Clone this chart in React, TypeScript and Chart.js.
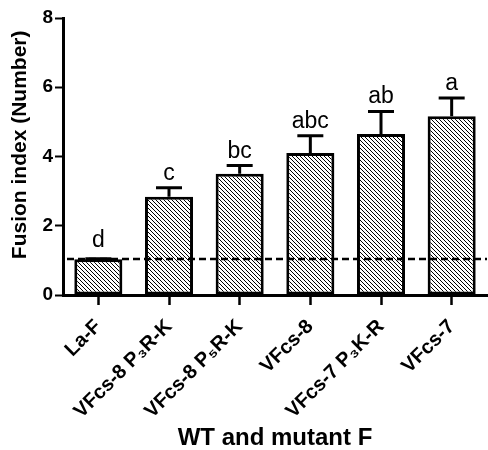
import React, { useEffect, useRef } from "react";
import { Chart, registerables } from "chart.js";

Chart.register(...registerables);

const categories = ["La-F", "VFcs-8 P₃R-K", "VFcs-8 P₅R-K", "VFcs-8", "VFcs-7 P₃K-R", "VFcs-7"];
const means = [1.03, 2.84, 3.5, 4.1, 4.65, 5.16];
const errors = [0.02, 0.26, 0.24, 0.5, 0.65, 0.53];
const letters = ["d", "c", "bc", "abc", "ab", "a"];
const referenceLine = 1.04;
const yMin = 0;
const yMax = 8;
const yStep = 2;

const FONT = "Arial, 'Liberation Sans', sans-serif";

function makeHatch(): CanvasPattern | string {
  const c = document.createElement("canvas");
  c.width = 4;
  c.height = 4;
  const g = c.getContext("2d");
  if (!g) return "#fff";
  g.fillStyle = "#fff";
  g.fillRect(0, 0, 4, 4);
  g.strokeStyle = "#000";
  g.lineWidth = 1;
  g.beginPath();
  g.moveTo(-1, -1);
  g.lineTo(5, 5);
  g.moveTo(-1, 3);
  g.lineTo(1, 5);
  g.moveTo(3, -1);
  g.lineTo(5, 1);
  g.stroke();
  const p = g.createPattern(c, "repeat");
  return p || "#fff";
}

const annotationsPlugin = {
  id: "annotations",
  afterDatasetsDraw(chart: any) {
    const ctx = chart.ctx;
    const y = chart.scales.y;
    const meta = chart.getDatasetMeta(0);
    const area = chart.chartArea;
    ctx.save();
    ctx.strokeStyle = "#000";
    ctx.lineWidth = 3;
    meta.data.forEach((bar: any, i: number) => {
      const x = bar.x;
      const yb = y.getPixelForValue(means[i]);
      const yt = y.getPixelForValue(means[i] + errors[i]);
      ctx.beginPath();
      ctx.moveTo(x, yb);
      ctx.lineTo(x, yt);
      ctx.moveTo(x - 13, yt);
      ctx.lineTo(x + 13, yt);
      ctx.stroke();
      ctx.fillStyle = "#000";
      ctx.font = `23px ${FONT}`;
      ctx.textAlign = "center";
      ctx.textBaseline = "alphabetic";
      ctx.fillText(letters[i], x, yt - (i === 0 ? 12 : 8));
    });
    const yr = y.getPixelForValue(referenceLine);
    ctx.setLineDash([7, 4]);
    ctx.lineWidth = 2.5;
    ctx.beginPath();
    ctx.moveTo(area.left + 4, yr);
    ctx.lineTo(area.right, yr);
    ctx.stroke();
    ctx.restore();
  },
};

export default function App() {
  const ref = useRef<HTMLCanvasElement>(null);
  useEffect(() => {
    if (!ref.current) return;
    const hatch = makeHatch();
    const chart = new Chart(ref.current, {
      type: "bar",
      data: {
        labels: categories,
        datasets: [
          {
            data: means,
            backgroundColor: hatch as any,
            borderColor: "#000",
            borderWidth: 3,
            borderSkipped: false,
            barPercentage: 0.68,
            categoryPercentage: 1,
          },
        ],
      },
      options: {
        responsive: false,
        animation: false,
        layout: { padding: { top: 18, right: 1, left: 0, bottom: 0 } },
        plugins: {
          legend: { display: false },
          tooltip: { enabled: false },
        },
        scales: {
          x: {
            grid: {
              display: true,
              drawOnChartArea: false,
              drawTicks: true,
              tickLength: 10,
              tickWidth: 2.5,
              tickColor: "#000",
              offset: false,
            },
            border: { display: true, color: "#000", width: 3 },
            ticks: {
              color: "#000",
              font: { family: FONT, size: 20, weight: "bold" },
              maxRotation: 45,
              minRotation: 45,
              autoSkip: false,
              padding: 10,
            },
            title: {
              display: true,
              text: "WT and mutant F",
              color: "#000",
              font: { family: FONT, size: 24, weight: "bold", lineHeight: 1 },
              padding: { top: 0, bottom: 0 },
            },
            afterFit: (s: any) => {
              s.height = 155;
            },
          },
          y: {
            min: yMin,
            max: yMax,
            ticks: {
              stepSize: yStep,
              color: "#000",
              font: { family: FONT, size: 19, weight: "bold" },
              padding: 2,
            },
            grid: {
              drawOnChartArea: false,
              tickLength: 8,
              tickWidth: 2,
              tickColor: "#000",
            },
            border: { display: true, color: "#000", width: 3 },
            title: {
              display: true,
              text: "    Fusion index (Number)",
              color: "#000",
              font: { family: FONT, size: 21, weight: "bold" },
              padding: { top: 8, bottom: 0 },
            },
            afterFit: (s: any) => {
              s.width = 63;
            },
          },
        },
      },
      plugins: [annotationsPlugin],
    });
    return () => chart.destroy();
  }, []);
  return (
    <div style={{ position: "absolute", left: 0, top: 0, width: 488, height: 450, background: "#fff" }}>
      <canvas ref={ref} width={488} height={450} />
    </div>
  );
}
